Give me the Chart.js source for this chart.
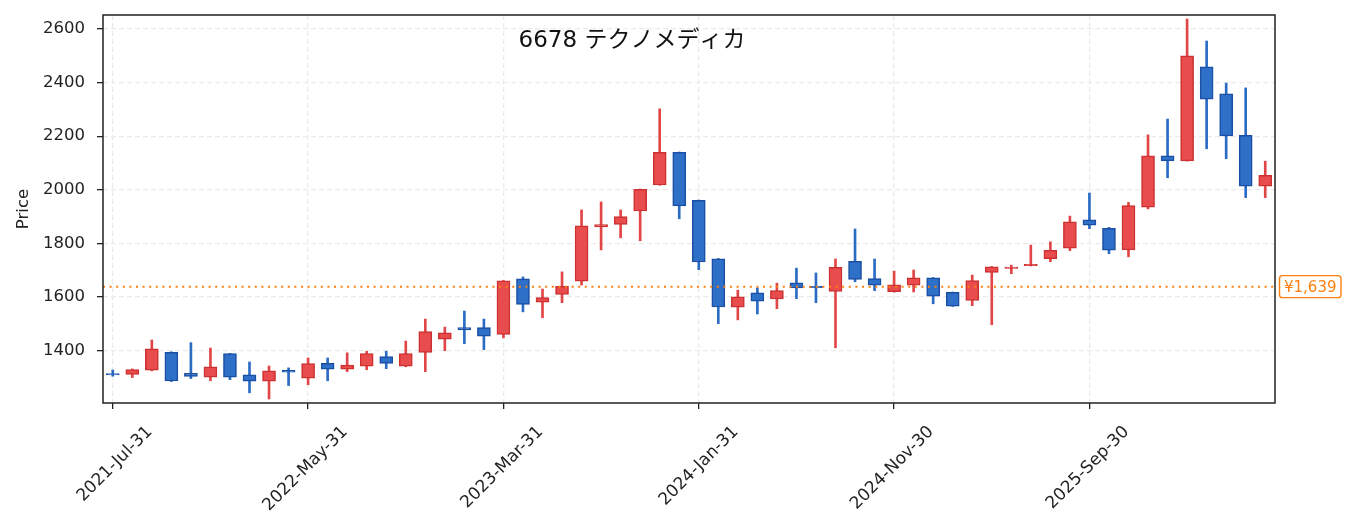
<!DOCTYPE html>
<html>
<head>
<meta charset="utf-8">
<script src="https://cdn.jsdelivr.net/npm/chart.js@4.4.1/dist/chart.umd.min.js"></script>
<style>
  body { margin: 0; background: #fff; }
  #wrap { width: 1353px; height: 531px; }
</style>
</head>
<body>
<div id="wrap"><canvas id="myChart" width="1353" height="531"></canvas></div>
<script>
// monthly candles (month end)
var months = [
  "2021-Jul-31", "2021-Aug-31", "2021-Sep-30", "2021-Oct-31", "2021-Nov-30", "2021-Dec-31",
  "2022-Jan-31", "2022-Feb-28", "2022-Mar-31", "2022-Apr-30", "2022-May-31", "2022-Jun-30",
  "2022-Jul-31", "2022-Aug-31", "2022-Sep-30", "2022-Oct-31", "2022-Nov-30", "2022-Dec-31",
  "2023-Jan-31", "2023-Feb-28", "2023-Mar-31", "2023-Apr-30", "2023-May-31", "2023-Jun-30",
  "2023-Jul-31", "2023-Aug-31", "2023-Sep-30", "2023-Oct-31", "2023-Nov-30", "2023-Dec-31",
  "2024-Jan-31", "2024-Feb-29", "2024-Mar-31", "2024-Apr-30", "2024-May-31", "2024-Jun-30",
  "2024-Jul-31", "2024-Aug-31", "2024-Sep-30", "2024-Oct-31", "2024-Nov-30", "2024-Dec-31",
  "2025-Jan-31", "2025-Feb-28", "2025-Mar-31", "2025-Apr-30", "2025-May-31", "2025-Jun-30",
  "2025-Jul-31", "2025-Aug-31", "2025-Sep-30", "2025-Oct-31", "2025-Nov-30", "2025-Dec-31",
  "2026-Jan-31", "2026-Feb-28", "2026-Mar-31", "2026-Apr-30", "2026-May-31", "2026-Jun-30"
];
var opens = [
  1315, 1312, 1327, 1394, 1316, 1301, 1389, 1310, 1286, 1327,
  1298, 1353, 1331, 1342, 1378, 1342, 1394, 1443, 1486, 1486,
  1461, 1668, 1581, 1610, 1659, 1862, 1871, 1921, 2018, 2140,
  1961, 1743, 1562, 1616, 1593, 1653, 1640, 1621, 1733, 1669,
  1620, 1644, 1672, 1618, 1588, 1692, 1707, 1717, 1743, 1782,
  1888, 1856, 1776, 1935, 2127, 2108, 2459, 2358, 2203, 2014
];
var highs = [
  1328, 1332, 1440, 1396, 1430, 1410, 1390, 1358, 1343, 1336,
  1373, 1373, 1392, 1398, 1398, 1436, 1518, 1488, 1548, 1518,
  1662, 1675, 1630, 1694, 1925, 1955, 1925, 2003, 2302, 2141,
  1962, 1744, 1626, 1634, 1652, 1708, 1690, 1742, 1854, 1742,
  1697, 1701, 1673, 1619, 1682, 1714, 1719, 1794, 1806, 1902,
  1988, 1860, 1953, 2205, 2264, 2637, 2555, 2398, 2380, 2107
];
var lows = [
  1305, 1300, 1325, 1285, 1296, 1288, 1292, 1243, 1220, 1270,
  1273, 1288, 1322, 1329, 1333, 1340, 1322, 1400, 1426, 1404,
  1448, 1545, 1523, 1579, 1645, 1776, 1821, 1810, 2017, 1892,
  1702, 1501, 1515, 1537, 1557, 1594, 1579, 1411, 1657, 1624,
  1618, 1619, 1575, 1565, 1568, 1497, 1687, 1716, 1732, 1773,
  1855, 1762, 1750, 1929, 2045, 2107, 2153, 2116, 1971, 1971
];
var closes = [
  1310, 1330, 1407, 1287, 1304, 1340, 1301, 1286, 1325, 1320,
  1352, 1331, 1346, 1389, 1353, 1389, 1471, 1467, 1478, 1454,
  1661, 1573, 1598, 1640, 1866, 1870, 1900, 2002, 2140, 1940,
  1731, 1563, 1601, 1585, 1624, 1634, 1635, 1711, 1666, 1644,
  1646, 1672, 1603, 1566, 1662, 1713, 1712, 1722, 1774, 1881,
  1868, 1775, 1941, 2127, 2108, 2500, 2338, 2201, 2014, 2054
];
var refPrice = 1639;
var yTicks = [1400, 1600, 1800, 2000, 2200, 2400, 2600];
var chartTitle = "6678 テクノメディカ";

var upFill = "#e84c4c", upLine = "#cc3030", upWick = "#e24545";
var dnFill = "#2e6fc7", dnLine = "#1a4fa3", dnWick = "#2a6cc4";
var FONT = "'DejaVu Sans', 'Noto Sans CJK JP', sans-serif";

var bodies = [], wicks = [], fills = [], lines = [], wickCols = [];
for (var i = 0; i < months.length; i++) {
  var up = closes[i] >= opens[i];
  bodies.push([opens[i], closes[i]]);
  wicks.push([lows[i], highs[i]]);
  fills.push(up ? upFill : dnFill);
  lines.push(up ? upLine : dnLine);
  wickCols.push(up ? upWick : dnWick);
}

Chart.defaults.font.family = FONT;
Chart.defaults.color = "#222";

// title, reference line + price tag, axes frame
var extras = {
  id: "extras",
  afterDatasetsDraw: function (chart) {
    var ctx = chart.ctx, a = chart.chartArea;
    var y = chart.scales.y.getPixelForValue(refPrice);
    ctx.save();
    ctx.strokeStyle = "#ff7f0e";
    ctx.lineWidth = 2;
    ctx.setLineDash([2, 4.6]);
    ctx.beginPath();
    ctx.moveTo(a.left, y);
    ctx.lineTo(a.right, y);
    ctx.stroke();
    ctx.restore();
  },
  afterDraw: function (chart) {
    var ctx = chart.ctx, a = chart.chartArea;
    var y = chart.scales.y.getPixelForValue(refPrice);
    ctx.save();
    ctx.strokeStyle = "#222";
    ctx.lineWidth = 1.5;
    ctx.strokeRect(a.left, a.top, a.right - a.left, a.bottom - a.top);

    // price tag
    var label = "¥" + refPrice.toLocaleString("en-US");
    ctx.font = "15px " + FONT;
    var w = ctx.measureText(label).width + 9;
    var x0 = a.right + 4.5, h = 22;
    ctx.fillStyle = "#fff";
    ctx.strokeStyle = "#ff7f0e";
    ctx.lineWidth = 1.4;
    ctx.beginPath();
    ctx.roundRect(x0, y - h / 2, w, h, 3);
    ctx.fill();
    ctx.stroke();
    ctx.fillStyle = "#ff7f0e";
    ctx.textAlign = "left";
    ctx.textBaseline = "middle";
    ctx.fillText(label, x0 + 4.5, y + 1);

    // title inside the axes
    ctx.font = "23px " + FONT;
    ctx.fillStyle = "#111";
    ctx.textAlign = "center";
    ctx.fillText(chartTitle, 632, 41);
    ctx.restore();
  }
};

var gridOpts = {
  color: "#ebebeb",
  lineWidth: 1.3,
  tickColor: "#222",
  tickLength: 6,
  tickWidth: 1.3,
  tickBorderDash: []
};

new Chart("myChart", {
  type: "bar",
  data: {
    labels: months,
    datasets: [
      {
        label: "body",
        data: bodies,
        backgroundColor: fills,
        borderColor: lines,
        borderWidth: 1.5,
        borderSkipped: false,
        barThickness: 13,
        grouped: false,
        order: 0
      },
      {
        label: "wick",
        data: wicks,
        backgroundColor: wickCols,
        borderWidth: 0,
        barThickness: 2,
        grouped: false,
        order: 1
      }
    ]
  },
  options: {
    responsive: false,
    devicePixelRatio: 1,
    animation: false,
    layout: { padding: { top: 15, right: 78, left: 0, bottom: 0 } },
    plugins: {
      legend: { display: false },
      tooltip: { enabled: false },
      title: { display: false }
    },
    scales: {
      x: {
        offset: true,
        grid: Object.assign({ offset: false }, gridOpts),
        border: { display: false, dash: [5, 3] },
        ticks: {
          autoSkip: false,
          minRotation: 45,
          maxRotation: 45,
          labelOffset: 37,
          padding: 13,
          font: { size: 17 },
          callback: function (v, i) {
            return i % 10 === 0 ? months[i] : null;
          }
        },
        afterFit: function (s) {
          s.height = 128;
          s.paddingLeft = 0;
          s.paddingRight = 0;
        }
      },
      y: {
        min: 1205,
        max: 2652,
        grid: gridOpts,
        border: { display: false, dash: [5, 3] },
        title: {
          display: true,
          text: "Price",
          font: { size: 16.5 },
          padding: { top: 14, bottom: 0 }
        },
        ticks: {
          padding: 12,
          font: { size: 16.5 },
          callback: function (v) { return String(v); }
        },
        afterBuildTicks: function (s) {
          s.ticks = yTicks.map(function (v) { return { value: v }; });
        },
        afterFit: function (s) {
          s.width = 103;
          s.paddingTop = 0;
          s.paddingBottom = 0;
        }
      }
    }
  },
  plugins: [extras]
});
</script>
</body>
</html>
